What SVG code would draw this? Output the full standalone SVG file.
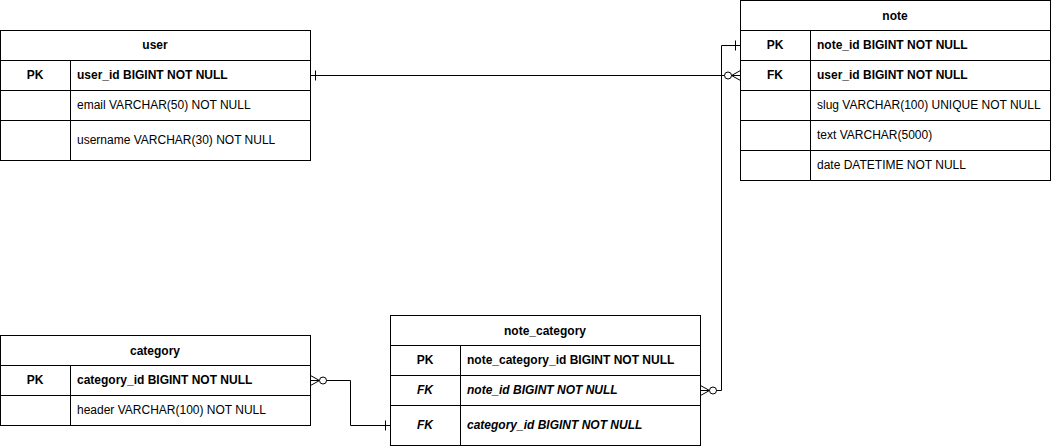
<svg xmlns="http://www.w3.org/2000/svg" width="1051" height="446" viewBox="0 0 1051 446">
<style>
.t{fill:#fff;stroke:#000;stroke-width:1}
.l{stroke:#000;stroke-width:1;fill:none}
text{font-family:"Liberation Sans",Arial,sans-serif;font-size:12px;fill:#000}
.h{font-weight:bold;text-anchor:middle}
.k{font-weight:bold;text-anchor:middle}
.b{font-weight:bold}
.i{font-style:italic}
.c{stroke:#000;stroke-width:1;fill:none}
</style>
<defs>
<marker id="one" markerUnits="userSpaceOnUse" viewBox="-20 -10 30 20" markerWidth="30" markerHeight="20" refX="0" refY="0" orient="auto-start-reverse" overflow="visible">
<path d="M-5,-5 V5" stroke="#000" stroke-width="1" fill="none"/>
</marker>
<marker id="zmany" markerUnits="userSpaceOnUse" viewBox="-20 -10 30 20" markerWidth="30" markerHeight="20" refX="0" refY="0" orient="auto-start-reverse" overflow="visible">
<path d="M0,-5 L-9,0 L0,5 M-9,0 H0" stroke="#000" stroke-width="1" fill="none"/>
<circle cx="-12.5" cy="0" r="3.5" fill="#fff" stroke="#000" stroke-width="1"/>
</marker>
</defs>

<g id="connectors" transform="translate(0.5,0.5)">
<path class="c" d="M310,75 H740" marker-start="url(#one)" marker-end="url(#zmany)"/>
<path class="c" d="M740,45 H721 V390 H700" marker-start="url(#one)" marker-end="url(#zmany)"/>
<path class="c" d="M310,380 H350 V425 H390" marker-start="url(#zmany)" marker-end="url(#one)"/>
</g>

<g id="user">
<g transform="translate(0.5,0.5)">
<rect class="t" x="0" y="30" width="310" height="130"/>
<path class="l" d="M0,60 H310 M0,90 H310 M0,120 H310 M70,60 V160"/>
</g>
<text class="h" x="155" y="49">user</text>
<text class="k" x="35" y="79">PK</text>
<text class="b" x="77" y="79">user_id BIGINT NOT NULL</text>
<text x="77" y="109">email VARCHAR(50) NOT NULL</text>
<text x="77" y="144">username VARCHAR(30) NOT NULL</text>
</g>

<g id="note">
<g transform="translate(0.5,0.5)">
<rect class="t" x="740" y="0" width="310" height="180"/>
<path class="l" d="M740,30 H1050 M740,60 H1050 M740,90 H1050 M740,120 H1050 M740,150 H1050 M810,30 V180"/>
</g>
<text class="h" x="895" y="20">note</text>
<text class="k" x="775" y="49">PK</text>
<text class="b" x="817" y="49">note_id BIGINT NOT NULL</text>
<text class="k" x="775" y="79">FK</text>
<text class="b" x="817" y="79">user_id BIGINT NOT NULL</text>
<text x="817" y="109">slug VARCHAR(100) UNIQUE NOT NULL</text>
<text x="817" y="139">text VARCHAR(5000)</text>
<text x="817" y="169">date DATETIME NOT NULL</text>
</g>

<g id="category">
<g transform="translate(0.5,0.5)">
<rect class="t" x="0" y="335" width="310" height="90"/>
<path class="l" d="M0,365 H310 M0,395 H310 M70,365 V425"/>
</g>
<text class="h" x="155" y="355">category</text>
<text class="k" x="35" y="384">PK</text>
<text class="b" x="77" y="384">category_id BIGINT NOT NULL</text>
<text x="77" y="414">header VARCHAR(100) NOT NULL</text>
</g>

<g id="note_category">
<g transform="translate(0.5,0.5)">
<rect class="t" x="390" y="315" width="310" height="130"/>
<path class="l" d="M390,345 H700 M390,375 H700 M390,405 H700 M460,345 V445"/>
</g>
<text class="h" x="545" y="335">note_category</text>
<text class="k" x="425" y="364">PK</text>
<text class="b" x="467" y="364">note_category_id BIGINT NOT NULL</text>
<text class="k i" x="425" y="394">FK</text>
<text class="b i" x="467" y="394">note_id BIGINT NOT NULL</text>
<text class="k i" x="425" y="429">FK</text>
<text class="b i" x="467" y="429">category_id BIGINT NOT NULL</text>
</g>
</svg>
